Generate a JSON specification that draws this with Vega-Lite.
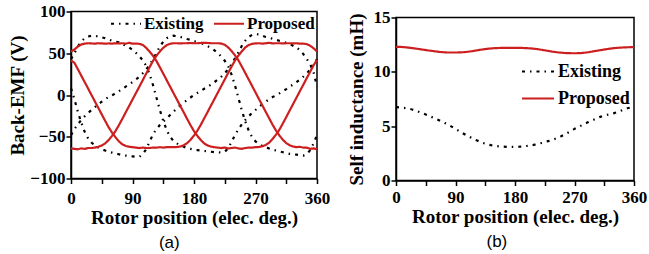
{
"$schema": "https://vega.github.io/schema/vega-lite/v6.json",
"background": "white",
"padding": {"left": 8, "top": 1.5, "right": 0, "bottom": 0},
"spacing": 15,
"columns": 2,
"align": "none",
"datasets": {
"emf": [
{"s":"Existing","p":"1","x":0,"y":43},{"s":"Existing","p":"1","x":5,"y":50},{"s":"Existing","p":"1","x":10,"y":58},{"s":"Existing","p":"1","x":15,"y":64},{"s":"Existing","p":"1","x":20,"y":68},{"s":"Existing","p":"1","x":25,"y":70},{"s":"Existing","p":"1","x":30,"y":71},{"s":"Existing","p":"1","x":35,"y":71},{"s":"Existing","p":"1","x":40,"y":70},{"s":"Existing","p":"1","x":45,"y":69},{"s":"Existing","p":"1","x":50,"y":68},{"s":"Existing","p":"1","x":55,"y":66.5},{"s":"Existing","p":"1","x":60,"y":65},{"s":"Existing","p":"1","x":65,"y":64},{"s":"Existing","p":"1","x":70,"y":63},{"s":"Existing","p":"1","x":75,"y":61},{"s":"Existing","p":"1","x":80,"y":59},{"s":"Existing","p":"1","x":85,"y":57},{"s":"Existing","p":"1","x":90,"y":54},{"s":"Existing","p":"1","x":95,"y":50.5},{"s":"Existing","p":"1","x":100,"y":46.5},{"s":"Existing","p":"1","x":105,"y":41.5},{"s":"Existing","p":"1","x":110,"y":35},{"s":"Existing","p":"1","x":115,"y":25},{"s":"Existing","p":"1","x":120,"y":12},{"s":"Existing","p":"1","x":125,"y":-3},{"s":"Existing","p":"1","x":130,"y":-18},{"s":"Existing","p":"1","x":135,"y":-31},{"s":"Existing","p":"1","x":140,"y":-42},{"s":"Existing","p":"1","x":145,"y":-50},{"s":"Existing","p":"1","x":150,"y":-55},{"s":"Existing","p":"1","x":155,"y":-58},{"s":"Existing","p":"1","x":160,"y":-60.5},{"s":"Existing","p":"1","x":165,"y":-62},{"s":"Existing","p":"1","x":170,"y":-63.5},{"s":"Existing","p":"1","x":175,"y":-64.5},{"s":"Existing","p":"1","x":180,"y":-65.5},{"s":"Existing","p":"1","x":185,"y":-66},{"s":"Existing","p":"1","x":190,"y":-66.5},{"s":"Existing","p":"1","x":195,"y":-67},{"s":"Existing","p":"1","x":200,"y":-67.5},{"s":"Existing","p":"1","x":205,"y":-68},{"s":"Existing","p":"1","x":210,"y":-68.5},{"s":"Existing","p":"1","x":215,"y":-68.5},{"s":"Existing","p":"1","x":220,"y":-69},{"s":"Existing","p":"1","x":225,"y":-68},{"s":"Existing","p":"1","x":230,"y":-64},{"s":"Existing","p":"1","x":235,"y":-56},{"s":"Existing","p":"1","x":240,"y":-48},{"s":"Existing","p":"1","x":245,"y":-41},{"s":"Existing","p":"1","x":250,"y":-35},{"s":"Existing","p":"1","x":255,"y":-30},{"s":"Existing","p":"1","x":260,"y":-25.5},{"s":"Existing","p":"1","x":265,"y":-21.5},{"s":"Existing","p":"1","x":270,"y":-18},{"s":"Existing","p":"1","x":275,"y":-14.5},{"s":"Existing","p":"1","x":280,"y":-11},{"s":"Existing","p":"1","x":285,"y":-8},{"s":"Existing","p":"1","x":290,"y":-5},{"s":"Existing","p":"1","x":295,"y":-2.5},{"s":"Existing","p":"1","x":300,"y":-0.5},{"s":"Existing","p":"1","x":305,"y":2},{"s":"Existing","p":"1","x":310,"y":4.5},{"s":"Existing","p":"1","x":315,"y":7},{"s":"Existing","p":"1","x":320,"y":10},{"s":"Existing","p":"1","x":325,"y":12.5},{"s":"Existing","p":"1","x":330,"y":15.5},{"s":"Existing","p":"1","x":335,"y":18.5},{"s":"Existing","p":"1","x":340,"y":22},{"s":"Existing","p":"1","x":345,"y":26},{"s":"Existing","p":"1","x":350,"y":30.5},{"s":"Existing","p":"1","x":355,"y":36},{"s":"Existing","p":"1","x":360,"y":43},
{"s":"Existing","p":"2","x":0,"y":-48},{"s":"Existing","p":"2","x":5,"y":-41},{"s":"Existing","p":"2","x":10,"y":-35},{"s":"Existing","p":"2","x":15,"y":-30},{"s":"Existing","p":"2","x":20,"y":-25.5},{"s":"Existing","p":"2","x":25,"y":-21.5},{"s":"Existing","p":"2","x":30,"y":-18},{"s":"Existing","p":"2","x":35,"y":-14.5},{"s":"Existing","p":"2","x":40,"y":-11},{"s":"Existing","p":"2","x":45,"y":-8},{"s":"Existing","p":"2","x":50,"y":-5},{"s":"Existing","p":"2","x":55,"y":-2.5},{"s":"Existing","p":"2","x":60,"y":-0.5},{"s":"Existing","p":"2","x":65,"y":2},{"s":"Existing","p":"2","x":70,"y":4.5},{"s":"Existing","p":"2","x":75,"y":7},{"s":"Existing","p":"2","x":80,"y":10},{"s":"Existing","p":"2","x":85,"y":12.5},{"s":"Existing","p":"2","x":90,"y":15.5},{"s":"Existing","p":"2","x":95,"y":18.5},{"s":"Existing","p":"2","x":100,"y":22},{"s":"Existing","p":"2","x":105,"y":26},{"s":"Existing","p":"2","x":110,"y":30.5},{"s":"Existing","p":"2","x":115,"y":36},{"s":"Existing","p":"2","x":120,"y":43},{"s":"Existing","p":"2","x":125,"y":50},{"s":"Existing","p":"2","x":130,"y":58},{"s":"Existing","p":"2","x":135,"y":64},{"s":"Existing","p":"2","x":140,"y":68},{"s":"Existing","p":"2","x":145,"y":70},{"s":"Existing","p":"2","x":150,"y":71},{"s":"Existing","p":"2","x":155,"y":70.5},{"s":"Existing","p":"2","x":160,"y":69.5},{"s":"Existing","p":"2","x":165,"y":68.5},{"s":"Existing","p":"2","x":170,"y":67},{"s":"Existing","p":"2","x":175,"y":66},{"s":"Existing","p":"2","x":180,"y":64.5},{"s":"Existing","p":"2","x":185,"y":63.5},{"s":"Existing","p":"2","x":190,"y":62.5},{"s":"Existing","p":"2","x":195,"y":60.5},{"s":"Existing","p":"2","x":200,"y":58.5},{"s":"Existing","p":"2","x":205,"y":56.5},{"s":"Existing","p":"2","x":210,"y":53.5},{"s":"Existing","p":"2","x":215,"y":50},{"s":"Existing","p":"2","x":220,"y":46},{"s":"Existing","p":"2","x":225,"y":41},{"s":"Existing","p":"2","x":230,"y":34.5},{"s":"Existing","p":"2","x":235,"y":24.5},{"s":"Existing","p":"2","x":240,"y":11.5},{"s":"Existing","p":"2","x":245,"y":-3.5},{"s":"Existing","p":"2","x":250,"y":-18.5},{"s":"Existing","p":"2","x":255,"y":-31.5},{"s":"Existing","p":"2","x":260,"y":-42.5},{"s":"Existing","p":"2","x":265,"y":-50.5},{"s":"Existing","p":"2","x":270,"y":-55.5},{"s":"Existing","p":"2","x":275,"y":-58.5},{"s":"Existing","p":"2","x":280,"y":-61},{"s":"Existing","p":"2","x":285,"y":-62.5},{"s":"Existing","p":"2","x":290,"y":-64},{"s":"Existing","p":"2","x":295,"y":-65.5},{"s":"Existing","p":"2","x":300,"y":-66.5},{"s":"Existing","p":"2","x":305,"y":-67.5},{"s":"Existing","p":"2","x":310,"y":-68.5},{"s":"Existing","p":"2","x":315,"y":-69.5},{"s":"Existing","p":"2","x":320,"y":-70.5},{"s":"Existing","p":"2","x":325,"y":-71},{"s":"Existing","p":"2","x":330,"y":-71.5},{"s":"Existing","p":"2","x":335,"y":-72},{"s":"Existing","p":"2","x":340,"y":-72.5},{"s":"Existing","p":"2","x":345,"y":-71},{"s":"Existing","p":"2","x":350,"y":-66},{"s":"Existing","p":"2","x":355,"y":-58},{"s":"Existing","p":"2","x":360,"y":-48},
{"s":"Existing","p":"3","x":0,"y":8},{"s":"Existing","p":"3","x":5,"y":-5},{"s":"Existing","p":"3","x":10,"y":-20},{"s":"Existing","p":"3","x":15,"y":-33},{"s":"Existing","p":"3","x":20,"y":-44},{"s":"Existing","p":"3","x":25,"y":-52},{"s":"Existing","p":"3","x":30,"y":-57},{"s":"Existing","p":"3","x":35,"y":-60.5},{"s":"Existing","p":"3","x":40,"y":-63},{"s":"Existing","p":"3","x":45,"y":-65},{"s":"Existing","p":"3","x":50,"y":-66.5},{"s":"Existing","p":"3","x":55,"y":-68},{"s":"Existing","p":"3","x":60,"y":-69},{"s":"Existing","p":"3","x":65,"y":-70},{"s":"Existing","p":"3","x":70,"y":-71},{"s":"Existing","p":"3","x":75,"y":-72},{"s":"Existing","p":"3","x":80,"y":-72.5},{"s":"Existing","p":"3","x":85,"y":-73},{"s":"Existing","p":"3","x":90,"y":-73.5},{"s":"Existing","p":"3","x":95,"y":-74},{"s":"Existing","p":"3","x":100,"y":-74},{"s":"Existing","p":"3","x":105,"y":-71},{"s":"Existing","p":"3","x":110,"y":-65},{"s":"Existing","p":"3","x":115,"y":-56},{"s":"Existing","p":"3","x":120,"y":-47},{"s":"Existing","p":"3","x":125,"y":-41},{"s":"Existing","p":"3","x":130,"y":-36},{"s":"Existing","p":"3","x":135,"y":-32},{"s":"Existing","p":"3","x":140,"y":-28},{"s":"Existing","p":"3","x":145,"y":-24},{"s":"Existing","p":"3","x":150,"y":-20},{"s":"Existing","p":"3","x":155,"y":-16},{"s":"Existing","p":"3","x":160,"y":-12.5},{"s":"Existing","p":"3","x":165,"y":-9},{"s":"Existing","p":"3","x":170,"y":-6},{"s":"Existing","p":"3","x":175,"y":-3},{"s":"Existing","p":"3","x":180,"y":0},{"s":"Existing","p":"3","x":185,"y":2.5},{"s":"Existing","p":"3","x":190,"y":5},{"s":"Existing","p":"3","x":195,"y":7.5},{"s":"Existing","p":"3","x":200,"y":10},{"s":"Existing","p":"3","x":205,"y":12.5},{"s":"Existing","p":"3","x":210,"y":15.5},{"s":"Existing","p":"3","x":215,"y":18.5},{"s":"Existing","p":"3","x":220,"y":22},{"s":"Existing","p":"3","x":225,"y":26},{"s":"Existing","p":"3","x":230,"y":31},{"s":"Existing","p":"3","x":235,"y":37},{"s":"Existing","p":"3","x":240,"y":44},{"s":"Existing","p":"3","x":245,"y":51},{"s":"Existing","p":"3","x":250,"y":59},{"s":"Existing","p":"3","x":255,"y":65},{"s":"Existing","p":"3","x":260,"y":69.5},{"s":"Existing","p":"3","x":265,"y":72},{"s":"Existing","p":"3","x":270,"y":73},{"s":"Existing","p":"3","x":275,"y":72.5},{"s":"Existing","p":"3","x":280,"y":71},{"s":"Existing","p":"3","x":285,"y":69.5},{"s":"Existing","p":"3","x":290,"y":68.5},{"s":"Existing","p":"3","x":295,"y":67.5},{"s":"Existing","p":"3","x":300,"y":66},{"s":"Existing","p":"3","x":305,"y":65},{"s":"Existing","p":"3","x":310,"y":64},{"s":"Existing","p":"3","x":315,"y":62.5},{"s":"Existing","p":"3","x":320,"y":61},{"s":"Existing","p":"3","x":325,"y":59},{"s":"Existing","p":"3","x":330,"y":57},{"s":"Existing","p":"3","x":335,"y":53.5},{"s":"Existing","p":"3","x":340,"y":49},{"s":"Existing","p":"3","x":345,"y":43},{"s":"Existing","p":"3","x":350,"y":37},{"s":"Existing","p":"3","x":355,"y":27},{"s":"Existing","p":"3","x":360,"y":10},
{"s":"Proposed","p":"A","x":0,"y":52},{"s":"Proposed","p":"A","x":5,"y":54.5},{"s":"Proposed","p":"A","x":10,"y":58},{"s":"Proposed","p":"A","x":15,"y":60.5},{"s":"Proposed","p":"A","x":20,"y":61.5},{"s":"Proposed","p":"A","x":25,"y":62},{"s":"Proposed","p":"A","x":30,"y":61.8},{"s":"Proposed","p":"A","x":35,"y":61.5},{"s":"Proposed","p":"A","x":40,"y":62},{"s":"Proposed","p":"A","x":45,"y":61.8},{"s":"Proposed","p":"A","x":50,"y":61.5},{"s":"Proposed","p":"A","x":55,"y":61.8},{"s":"Proposed","p":"A","x":60,"y":61.5},{"s":"Proposed","p":"A","x":65,"y":62},{"s":"Proposed","p":"A","x":70,"y":61.8},{"s":"Proposed","p":"A","x":75,"y":62},{"s":"Proposed","p":"A","x":80,"y":61.5},{"s":"Proposed","p":"A","x":85,"y":62.5},{"s":"Proposed","p":"A","x":90,"y":61.5},{"s":"Proposed","p":"A","x":95,"y":61.5},{"s":"Proposed","p":"A","x":100,"y":61.3},{"s":"Proposed","p":"A","x":105,"y":60},{"s":"Proposed","p":"A","x":110,"y":56.5},{"s":"Proposed","p":"A","x":115,"y":52},{"s":"Proposed","p":"A","x":120,"y":47},{"s":"Proposed","p":"A","x":125,"y":40.8},{"s":"Proposed","p":"A","x":130,"y":33.3},{"s":"Proposed","p":"A","x":135,"y":25.6},{"s":"Proposed","p":"A","x":140,"y":17.8},{"s":"Proposed","p":"A","x":145,"y":10},{"s":"Proposed","p":"A","x":150,"y":2.3},{"s":"Proposed","p":"A","x":155,"y":-5.4},{"s":"Proposed","p":"A","x":160,"y":-13.2},{"s":"Proposed","p":"A","x":165,"y":-20.9},{"s":"Proposed","p":"A","x":170,"y":-28.7},{"s":"Proposed","p":"A","x":175,"y":-36.3},{"s":"Proposed","p":"A","x":180,"y":-43.3},{"s":"Proposed","p":"A","x":185,"y":-49},{"s":"Proposed","p":"A","x":190,"y":-54},{"s":"Proposed","p":"A","x":195,"y":-58},{"s":"Proposed","p":"A","x":200,"y":-60.5},{"s":"Proposed","p":"A","x":205,"y":-61.8},{"s":"Proposed","p":"A","x":210,"y":-62.5},{"s":"Proposed","p":"A","x":215,"y":-63},{"s":"Proposed","p":"A","x":220,"y":-63.5},{"s":"Proposed","p":"A","x":225,"y":-63},{"s":"Proposed","p":"A","x":230,"y":-64},{"s":"Proposed","p":"A","x":235,"y":-63.5},{"s":"Proposed","p":"A","x":240,"y":-63},{"s":"Proposed","p":"A","x":245,"y":-64},{"s":"Proposed","p":"A","x":250,"y":-64.5},{"s":"Proposed","p":"A","x":255,"y":-63.5},{"s":"Proposed","p":"A","x":260,"y":-63},{"s":"Proposed","p":"A","x":265,"y":-63},{"s":"Proposed","p":"A","x":270,"y":-62.5},{"s":"Proposed","p":"A","x":275,"y":-62.3},{"s":"Proposed","p":"A","x":280,"y":-61.5},{"s":"Proposed","p":"A","x":285,"y":-59.8},{"s":"Proposed","p":"A","x":290,"y":-57},{"s":"Proposed","p":"A","x":295,"y":-52.6},{"s":"Proposed","p":"A","x":300,"y":-47.5},{"s":"Proposed","p":"A","x":305,"y":-41.6},{"s":"Proposed","p":"A","x":310,"y":-34.1},{"s":"Proposed","p":"A","x":315,"y":-26.4},{"s":"Proposed","p":"A","x":320,"y":-18.6},{"s":"Proposed","p":"A","x":325,"y":-10.9},{"s":"Proposed","p":"A","x":330,"y":-3.1},{"s":"Proposed","p":"A","x":335,"y":4.7},{"s":"Proposed","p":"A","x":340,"y":12.4},{"s":"Proposed","p":"A","x":345,"y":20.2},{"s":"Proposed","p":"A","x":350,"y":27.9},{"s":"Proposed","p":"A","x":355,"y":35.6},{"s":"Proposed","p":"A","x":360,"y":42},
{"s":"Proposed","p":"B","x":0,"y":41.5},{"s":"Proposed","p":"B","x":5,"y":38.5},{"s":"Proposed","p":"B","x":10,"y":31},{"s":"Proposed","p":"B","x":15,"y":23.2},{"s":"Proposed","p":"B","x":20,"y":15.5},{"s":"Proposed","p":"B","x":25,"y":7.8},{"s":"Proposed","p":"B","x":30,"y":0},{"s":"Proposed","p":"B","x":35,"y":-7.8},{"s":"Proposed","p":"B","x":40,"y":-15.5},{"s":"Proposed","p":"B","x":45,"y":-23.2},{"s":"Proposed","p":"B","x":50,"y":-31},{"s":"Proposed","p":"B","x":55,"y":-38.5},{"s":"Proposed","p":"B","x":60,"y":-45},{"s":"Proposed","p":"B","x":65,"y":-50.5},{"s":"Proposed","p":"B","x":70,"y":-55.5},{"s":"Proposed","p":"B","x":75,"y":-59},{"s":"Proposed","p":"B","x":80,"y":-61},{"s":"Proposed","p":"B","x":85,"y":-62},{"s":"Proposed","p":"B","x":90,"y":-62.5},{"s":"Proposed","p":"B","x":95,"y":-63},{"s":"Proposed","p":"B","x":100,"y":-63.5},{"s":"Proposed","p":"B","x":105,"y":-63},{"s":"Proposed","p":"B","x":110,"y":-63.5},{"s":"Proposed","p":"B","x":115,"y":-63.5},{"s":"Proposed","p":"B","x":120,"y":-63},{"s":"Proposed","p":"B","x":125,"y":-63},{"s":"Proposed","p":"B","x":130,"y":-62.5},{"s":"Proposed","p":"B","x":135,"y":-63},{"s":"Proposed","p":"B","x":140,"y":-62.5},{"s":"Proposed","p":"B","x":145,"y":-62.5},{"s":"Proposed","p":"B","x":150,"y":-62.5},{"s":"Proposed","p":"B","x":155,"y":-62.3},{"s":"Proposed","p":"B","x":160,"y":-61.7},{"s":"Proposed","p":"B","x":165,"y":-60.2},{"s":"Proposed","p":"B","x":170,"y":-57.6},{"s":"Proposed","p":"B","x":175,"y":-53.6},{"s":"Proposed","p":"B","x":180,"y":-48.5},{"s":"Proposed","p":"B","x":185,"y":-42.6},{"s":"Proposed","p":"B","x":190,"y":-35.6},{"s":"Proposed","p":"B","x":195,"y":-27.9},{"s":"Proposed","p":"B","x":200,"y":-20.2},{"s":"Proposed","p":"B","x":205,"y":-12.4},{"s":"Proposed","p":"B","x":210,"y":-4.7},{"s":"Proposed","p":"B","x":215,"y":3.1},{"s":"Proposed","p":"B","x":220,"y":10.9},{"s":"Proposed","p":"B","x":225,"y":18.6},{"s":"Proposed","p":"B","x":230,"y":26.4},{"s":"Proposed","p":"B","x":235,"y":34.1},{"s":"Proposed","p":"B","x":240,"y":41.3},{"s":"Proposed","p":"B","x":245,"y":47.2},{"s":"Proposed","p":"B","x":250,"y":52.4},{"s":"Proposed","p":"B","x":255,"y":57},{"s":"Proposed","p":"B","x":260,"y":59.8},{"s":"Proposed","p":"B","x":265,"y":61.3},{"s":"Proposed","p":"B","x":270,"y":61.8},{"s":"Proposed","p":"B","x":275,"y":62},{"s":"Proposed","p":"B","x":280,"y":61.5},{"s":"Proposed","p":"B","x":285,"y":62},{"s":"Proposed","p":"B","x":290,"y":62.5},{"s":"Proposed","p":"B","x":295,"y":61.8},{"s":"Proposed","p":"B","x":300,"y":62},{"s":"Proposed","p":"B","x":305,"y":62},{"s":"Proposed","p":"B","x":310,"y":61.8},{"s":"Proposed","p":"B","x":315,"y":62},{"s":"Proposed","p":"B","x":320,"y":62},{"s":"Proposed","p":"B","x":325,"y":61.8},{"s":"Proposed","p":"B","x":330,"y":62},{"s":"Proposed","p":"B","x":335,"y":61.5},{"s":"Proposed","p":"B","x":340,"y":61.5},{"s":"Proposed","p":"B","x":345,"y":61},{"s":"Proposed","p":"B","x":350,"y":59},{"s":"Proposed","p":"B","x":355,"y":56},{"s":"Proposed","p":"B","x":360,"y":52},
{"s":"Proposed","p":"C","x":0,"y":-64},{"s":"Proposed","p":"C","x":5,"y":-64.5},{"s":"Proposed","p":"C","x":10,"y":-65},{"s":"Proposed","p":"C","x":15,"y":-64},{"s":"Proposed","p":"C","x":20,"y":-64.5},{"s":"Proposed","p":"C","x":25,"y":-63.5},{"s":"Proposed","p":"C","x":30,"y":-63.5},{"s":"Proposed","p":"C","x":35,"y":-63},{"s":"Proposed","p":"C","x":40,"y":-62},{"s":"Proposed","p":"C","x":45,"y":-60.5},{"s":"Proposed","p":"C","x":50,"y":-58},{"s":"Proposed","p":"C","x":55,"y":-54},{"s":"Proposed","p":"C","x":60,"y":-49},{"s":"Proposed","p":"C","x":65,"y":-43.3},{"s":"Proposed","p":"C","x":70,"y":-36.3},{"s":"Proposed","p":"C","x":75,"y":-28.7},{"s":"Proposed","p":"C","x":80,"y":-20.9},{"s":"Proposed","p":"C","x":85,"y":-13.2},{"s":"Proposed","p":"C","x":90,"y":-5.4},{"s":"Proposed","p":"C","x":95,"y":2.3},{"s":"Proposed","p":"C","x":100,"y":10},{"s":"Proposed","p":"C","x":105,"y":17.8},{"s":"Proposed","p":"C","x":110,"y":25.6},{"s":"Proposed","p":"C","x":115,"y":33.3},{"s":"Proposed","p":"C","x":120,"y":40.8},{"s":"Proposed","p":"C","x":125,"y":47},{"s":"Proposed","p":"C","x":130,"y":52},{"s":"Proposed","p":"C","x":135,"y":56.5},{"s":"Proposed","p":"C","x":140,"y":59.7},{"s":"Proposed","p":"C","x":145,"y":61.3},{"s":"Proposed","p":"C","x":150,"y":62},{"s":"Proposed","p":"C","x":155,"y":62},{"s":"Proposed","p":"C","x":160,"y":61.8},{"s":"Proposed","p":"C","x":165,"y":62},{"s":"Proposed","p":"C","x":170,"y":62},{"s":"Proposed","p":"C","x":175,"y":62.3},{"s":"Proposed","p":"C","x":180,"y":62},{"s":"Proposed","p":"C","x":185,"y":62},{"s":"Proposed","p":"C","x":190,"y":62.3},{"s":"Proposed","p":"C","x":195,"y":62.5},{"s":"Proposed","p":"C","x":200,"y":62.3},{"s":"Proposed","p":"C","x":205,"y":62},{"s":"Proposed","p":"C","x":210,"y":62},{"s":"Proposed","p":"C","x":215,"y":62},{"s":"Proposed","p":"C","x":220,"y":61.6},{"s":"Proposed","p":"C","x":225,"y":60.2},{"s":"Proposed","p":"C","x":230,"y":57},{"s":"Proposed","p":"C","x":235,"y":52.6},{"s":"Proposed","p":"C","x":240,"y":47.5},{"s":"Proposed","p":"C","x":245,"y":41.6},{"s":"Proposed","p":"C","x":250,"y":34.1},{"s":"Proposed","p":"C","x":255,"y":26.4},{"s":"Proposed","p":"C","x":260,"y":18.6},{"s":"Proposed","p":"C","x":265,"y":10.9},{"s":"Proposed","p":"C","x":270,"y":3.1},{"s":"Proposed","p":"C","x":275,"y":-4.7},{"s":"Proposed","p":"C","x":280,"y":-12.4},{"s":"Proposed","p":"C","x":285,"y":-20.2},{"s":"Proposed","p":"C","x":290,"y":-27.9},{"s":"Proposed","p":"C","x":295,"y":-35.6},{"s":"Proposed","p":"C","x":300,"y":-42.6},{"s":"Proposed","p":"C","x":305,"y":-48.5},{"s":"Proposed","p":"C","x":310,"y":-53.6},{"s":"Proposed","p":"C","x":315,"y":-57.6},{"s":"Proposed","p":"C","x":320,"y":-60.2},{"s":"Proposed","p":"C","x":325,"y":-61.7},{"s":"Proposed","p":"C","x":330,"y":-62.5},{"s":"Proposed","p":"C","x":335,"y":-62},{"s":"Proposed","p":"C","x":340,"y":-63},{"s":"Proposed","p":"C","x":345,"y":-63},{"s":"Proposed","p":"C","x":350,"y":-64.5},{"s":"Proposed","p":"C","x":355,"y":-64},{"s":"Proposed","p":"C","x":360,"y":-65}
],
"ind": [
{"s":"Existing","x":0,"y":6.75},{"s":"Existing","x":10,"y":6.7},{"s":"Existing","x":20,"y":6.6},{"s":"Existing","x":30,"y":6.42},{"s":"Existing","x":40,"y":6.2},{"s":"Existing","x":50,"y":5.95},{"s":"Existing","x":60,"y":5.68},{"s":"Existing","x":70,"y":5.4},{"s":"Existing","x":80,"y":5.1},{"s":"Existing","x":90,"y":4.75},{"s":"Existing","x":100,"y":4.38},{"s":"Existing","x":110,"y":4.05},{"s":"Existing","x":120,"y":3.75},{"s":"Existing","x":130,"y":3.5},{"s":"Existing","x":140,"y":3.3},{"s":"Existing","x":150,"y":3.18},{"s":"Existing","x":160,"y":3.12},{"s":"Existing","x":170,"y":3.1},{"s":"Existing","x":180,"y":3.1},{"s":"Existing","x":190,"y":3.12},{"s":"Existing","x":200,"y":3.2},{"s":"Existing","x":210,"y":3.3},{"s":"Existing","x":220,"y":3.45},{"s":"Existing","x":230,"y":3.62},{"s":"Existing","x":240,"y":3.82},{"s":"Existing","x":250,"y":4.08},{"s":"Existing","x":260,"y":4.4},{"s":"Existing","x":270,"y":4.75},{"s":"Existing","x":280,"y":5.05},{"s":"Existing","x":290,"y":5.35},{"s":"Existing","x":300,"y":5.62},{"s":"Existing","x":310,"y":5.88},{"s":"Existing","x":320,"y":6.05},{"s":"Existing","x":330,"y":6.2},{"s":"Existing","x":340,"y":6.42},{"s":"Existing","x":350,"y":6.65},{"s":"Existing","x":360,"y":6.75},
{"s":"Proposed","x":0,"y":12.3},{"s":"Proposed","x":10,"y":12.28},{"s":"Proposed","x":20,"y":12.22},{"s":"Proposed","x":30,"y":12.14},{"s":"Proposed","x":40,"y":12.05},{"s":"Proposed","x":50,"y":11.96},{"s":"Proposed","x":60,"y":11.88},{"s":"Proposed","x":70,"y":11.81},{"s":"Proposed","x":80,"y":11.78},{"s":"Proposed","x":90,"y":11.78},{"s":"Proposed","x":100,"y":11.8},{"s":"Proposed","x":110,"y":11.86},{"s":"Proposed","x":120,"y":11.95},{"s":"Proposed","x":130,"y":12.05},{"s":"Proposed","x":140,"y":12.13},{"s":"Proposed","x":150,"y":12.18},{"s":"Proposed","x":160,"y":12.2},{"s":"Proposed","x":170,"y":12.21},{"s":"Proposed","x":180,"y":12.21},{"s":"Proposed","x":190,"y":12.2},{"s":"Proposed","x":200,"y":12.17},{"s":"Proposed","x":210,"y":12.12},{"s":"Proposed","x":220,"y":12.03},{"s":"Proposed","x":230,"y":11.93},{"s":"Proposed","x":240,"y":11.83},{"s":"Proposed","x":250,"y":11.76},{"s":"Proposed","x":260,"y":11.72},{"s":"Proposed","x":270,"y":11.71},{"s":"Proposed","x":280,"y":11.73},{"s":"Proposed","x":290,"y":11.8},{"s":"Proposed","x":300,"y":11.9},{"s":"Proposed","x":310,"y":12.0},{"s":"Proposed","x":320,"y":12.1},{"s":"Proposed","x":330,"y":12.18},{"s":"Proposed","x":340,"y":12.23},{"s":"Proposed","x":350,"y":12.26},{"s":"Proposed","x":360,"y":12.28}
]
},
"concat": [
{
"width": 246, "height": 167,
"data": {"name": "emf"},
"title": {"text": "(a)", "orient": "bottom", "anchor": "middle", "frame": "bounds", "font": "Liberation Sans", "fontSize": 17, "fontWeight": "normal", "color": "black", "offset": 7},
"mark": {"type": "line", "strokeWidth": 2.2},
"encoding": {
"x": {"field": "x", "type": "quantitative", "scale": {"domain": [0, 360], "nice": false}, "axis": {"values": [0,45,90,135,180,225,270,315,360], "labelExpr": "datum.value % 90 === 0 ? datum.label : ''", "title": "Rotor position (elec. deg.)", "titlePadding": 2, "labelPadding": 7}},
"y": {"field": "y", "type": "quantitative", "scale": {"domain": [-100, 100], "nice": false}, "axis": {"values": [-100,-50,0,50,100], "title": "Back-EMF (V)", "titlePadding": 2}},
"color": {"field": "s", "type": "nominal", "scale": {"domain": ["Existing", "Proposed"], "range": ["#000000", "#cc1f1f"]}, "legend": {"title": null, "orient": "none", "legendX": 38.5, "legendY": -4.5, "direction": "horizontal", "symbolType": "stroke", "symbolSize": 900, "symbolStrokeWidth": 2.2, "labelFontSize": 17, "labelOffset": 1.5, "columnPadding": 5, "padding": 0}},
"strokeDash": {"field": "s", "type": "nominal", "scale": {"domain": ["Existing", "Proposed"], "range": [[3,5,1.5,5],[1,0]]}, "legend": {"title": null, "orient": "none", "legendX": 38.5, "legendY": -4.5, "direction": "horizontal", "symbolType": "stroke", "symbolSize": 900, "symbolStrokeWidth": 2.2, "labelFontSize": 17, "labelOffset": 1.5, "columnPadding": 5, "padding": 0}},
"detail": {"field": "p"}
}
},
{
"vconcat": [
{
"width": 238, "height": 1,
"view": {"stroke": null},
"data": {"values": []},
"mark": "point"
},
{
"width": 238, "height": 163,
"data": {"name": "ind"},
"mark": {"type": "line", "strokeWidth": 2.2, "interpolate": "monotone"},
"encoding": {
"x": {"field": "x", "type": "quantitative", "scale": {"domain": [0, 360], "nice": false}, "axis": {"values": [0,45,90,135,180,225,270,315,360], "labelExpr": "datum.value % 90 === 0 ? datum.label : ''", "title": "Rotor position (elec. deg.)", "titlePadding": 2, "labelPadding": 4}},
"y": {"field": "y", "type": "quantitative", "scale": {"domain": [0, 15], "nice": false}, "axis": {"values": [0,5,10,15], "title": "Self inductance (mH)", "titlePadding": 7}},
"color": {"field": "s", "type": "nominal", "scale": {"domain": ["Existing", "Proposed"], "range": ["#000000", "#cc1f1f"]}, "legend": {"title": null, "orient": "none", "legendX": 124.5, "legendY": 42.5, "direction": "vertical", "symbolType": "stroke", "symbolSize": 1024, "symbolStrokeWidth": 2.2, "labelFontSize": 18, "labelOffset": 2.5, "rowPadding": -15, "padding": 0}},
"strokeDash": {"field": "s", "type": "nominal", "scale": {"domain": ["Existing", "Proposed"], "range": [[3,5,1.5,5],[1,0]]}, "legend": {"title": null, "orient": "none", "legendX": 124.5, "legendY": 42.5, "direction": "vertical", "symbolType": "stroke", "symbolSize": 1024, "symbolStrokeWidth": 2.2, "labelFontSize": 18, "labelOffset": 2.5, "rowPadding": -15, "padding": 0}}
}
}
],
"spacing": 5,
"bounds": "flush",
"title": {"text": "(b)", "orient": "bottom", "anchor": "middle", "frame": "bounds", "font": "Liberation Sans", "fontSize": 17, "fontWeight": "normal", "color": "black", "offset": 7}
}
],
"resolve": {"scale": {"x": "independent", "y": "independent", "color": "independent", "strokeDash": "independent"}, "legend": {"color": "independent", "strokeDash": "independent"}},
"config": {
"view": {"stroke": "black", "strokeWidth": 1.5},
"axis": {"labelFont": "Liberation Serif", "labelFontWeight": "bold", "labelFontSize": 17, "labelColor": "black", "titleFont": "Liberation Serif", "titleFontWeight": "bold", "titleFontSize": 19, "titleColor": "black", "domainColor": "black", "domainWidth": 1.5, "tickColor": "black", "tickWidth": 1.5, "tickSize": 5, "grid": false, "labelFlush": false, "labelOverlap": false, "labelBound": false},
"axisX": {"labelPadding": 6},
"axisY": {"labelPadding": 1},
"legend": {"labelFont": "Liberation Serif", "labelFontWeight": "bold", "labelColor": "black"}
}
}
